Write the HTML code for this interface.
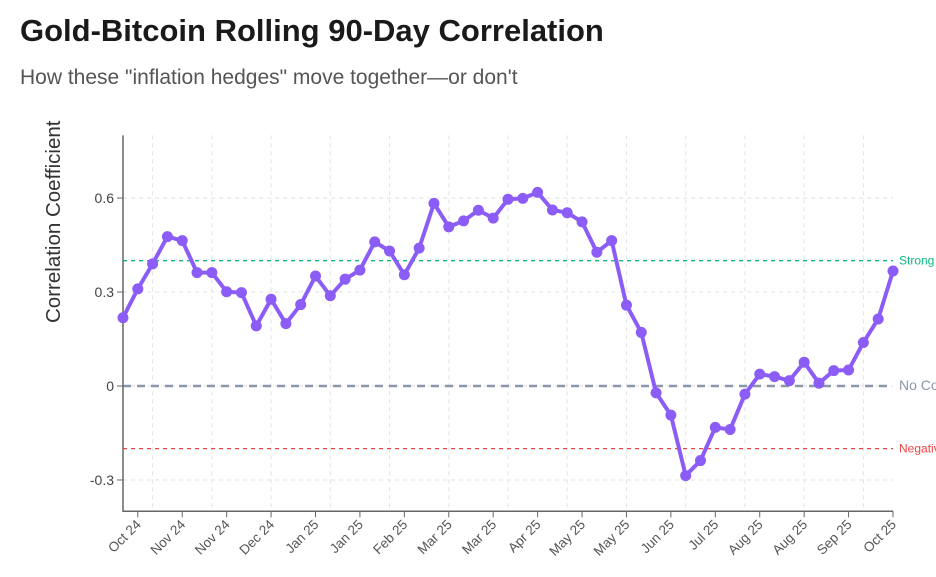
<!DOCTYPE html>
<html><head><meta charset="utf-8"><style>
body{margin:0;width:936px;height:577px;background:#fff;overflow:hidden;font-family:"Liberation Sans",sans-serif;}
h1{position:absolute;left:20px;top:13px;margin:0;font-size:31px;font-weight:bold;color:#1a1a1a;}
p{position:absolute;left:20px;top:66px;margin:0;font-size:21px;color:#555;}
svg{position:absolute;left:0;top:120px;}
</style></head><body>
<h1>Gold-Bitcoin Rolling 90-Day Correlation</h1>
<p>How these "inflation hedges" move together—or don't</p>
<svg id="c" width="936" height="457"></svg>
<script>
const values=[0.218,0.31,0.39,0.477,0.464,0.362,0.362,0.301,0.298,0.192,0.277,0.199,0.26,0.351,0.288,0.341,0.37,0.46,0.431,0.355,0.44,0.583,0.508,0.527,0.561,0.536,0.596,0.599,0.618,0.562,0.553,0.524,0.427,0.464,0.258,0.171,-0.022,-0.093,-0.286,-0.238,-0.132,-0.139,-0.026,0.038,0.03,0.017,0.076,0.009,0.049,0.051,0.139,0.214,0.367];
const tickLabels=["Oct 24","Nov 24","Nov 24","Dec 24","Jan 25","Jan 25","Feb 25","Mar 25","Mar 25","Apr 25","May 25","May 25","Jun 25","Jul 25","Aug 25","Aug 25","Sep 25","Oct 25"];
const yTicks=[0.6,0.3,0,-0.3];
const yTickLabels=["0.6","0.3","0","-0.3"];
const refValues=[0.4,0,-0.2];
const refLabels=["Strong Positive","No Correlation","Negative"];
const OY=120;
const svg=document.getElementById('c');
const NS="http://www.w3.org/2000/svg";
const x0=123,x1=893,yMin=-0.4,yMax=0.8,pTop=135.4-OY,pBot=511.3-OY;
const X=i=>x0+i*(x1-x0)/(values.length-1);
const Y=v=>pBot-(v-yMin)/(yMax-yMin)*(pBot-pTop);
function mk(t,a){const e=document.createElementNS(NS,t);for(const k in a)e.setAttribute(k,a[k]);svg.appendChild(e);return e;}
for(let i=2;i<values.length;i+=4){const g=mk('line',{x1:X(i),x2:X(i),y1:pTop,y2:pBot,stroke:'#e2e2e2','stroke-dasharray':'4,4'});

}
for(let v=-0.3;v<=0.81;v+=0.3){const g=mk('line',{x1:x0,x2:x1,y1:Y(v),y2:Y(v),stroke:'#e2e2e2','stroke-dasharray':'4,4'});

}
const refCol=['#10b981','#8a97ab','#ef4444'];
refValues.forEach((v,k)=>{const l=mk('line',{x1:x0,x2:x1,y1:Y(v),y2:Y(v),stroke:refCol[k],'stroke-width':k==1?2.5:1.3,'stroke-dasharray':k==1?'8,6':'4,4'});


const t=mk('text',{x:899,y:Y(v)+4,fill:refCol[k],'font-size':k==1?14:12});t.textContent=refLabels[k];

});
const ax=mk('path',{d:`M${x0},${pTop}V${pBot}H${x1}`,fill:'none',stroke:'#666','stroke-width':1.5});


yTicks.forEach((v,k)=>{mk('line',{x1:x0-6,x2:x0,y1:Y(v),y2:Y(v),stroke:'#666'});
const t=mk('text',{x:x0-9,y:Y(v)+5,'text-anchor':'end','font-size':14,fill:'#444'});t.textContent=yTickLabels[k];

});
tickLabels.forEach((s,k)=>{const i=1+k*3,x=X(i);mk('line',{x1:x,x2:x,y1:pBot,y2:pBot+6,stroke:'#666'});
const t=mk('text',{transform:`translate(${x+4},${pBot+14}) rotate(-45)`,'text-anchor':'end','font-size':13.5,fill:'#555'});t.textContent=s;

});
const yt=mk('text',{transform:`translate(60,${323-OY}) rotate(-90)`,'font-size':20.5,fill:'#333'});yt.textContent='Correlation Coefficient';


const line=mk('path',{d:values.map((v,i)=>(i?'L':'M')+X(i)+','+Y(v)).join(''),fill:'none',stroke:'#8b5cf6','stroke-width':4,'stroke-linejoin':'round'});


values.forEach((v,i)=>{const c=mk('circle',{cx:X(i),cy:Y(v),r:5.5,fill:'#8b5cf6'});

});
</script>
</body></html>
